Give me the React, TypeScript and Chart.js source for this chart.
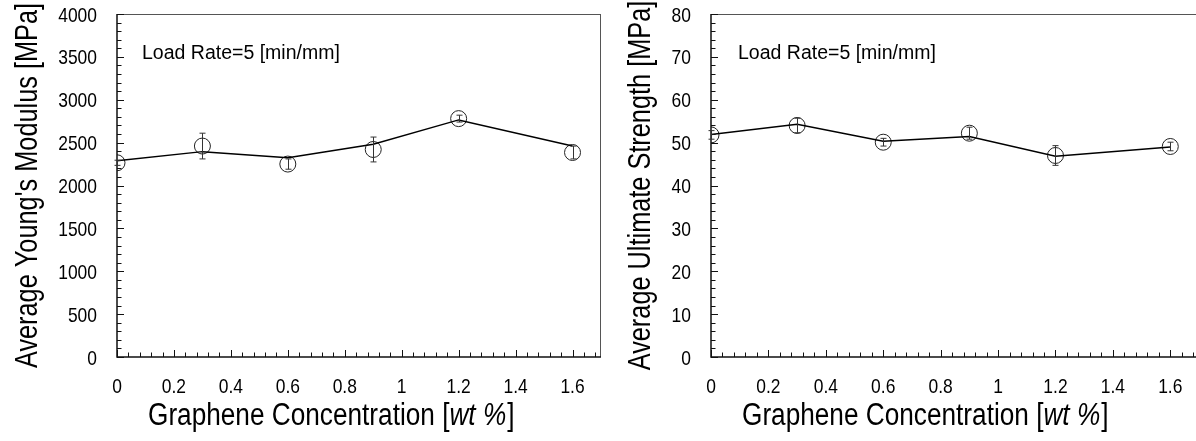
import React, { useEffect, useRef } from "react";
import { Chart, registerables } from "chart.js";

Chart.register(...registerables);

// ---- data ----
const concentrations = [0, 0.3, 0.6, 0.9, 1.2, 1.6];
const xTickValues = [0, 0.2, 0.4, 0.6, 0.8, 1, 1.2, 1.4, 1.6];
const xTickLabels = ["0", "0.2", "0.4", "0.6", "0.8", "1", "1.2", "1.4", "1.6"];

const modulusLine = [2290, 2395, 2325, 2480, 2765, 2460];
const modulusMean = [2265, 2460, 2250, 2420, 2780, 2385];
const modulusErr = [30, 150, 60, 145, 40, 75];
const modulusTicks = [0, 500, 1000, 1500, 2000, 2500, 3000, 3500, 4000];

const strengthLine = [51.9, 54.3, 50.3, 51.4, 46.8, 49.0];
const strengthMean = [51.8, 54.0, 50.1, 52.2, 47.0, 49.1];
const strengthErr = [1.0, 1.7, 0.9, 1.4, 2.3, 1.0];
const strengthTicks = [0, 10, 20, 30, 40, 50, 60, 70, 80];

const X_MAX = 1.7;
const X_MAJOR = 0.2;
const X_MINOR = 0.04;

const X_TITLE_MAIN = "Graphene Concentration [";
const X_TITLE_ITALIC = "wt %";
const X_TITLE_END = "]";
const NOTE = "Load Rate=5 [min/mm]";

const FONT = '"Liberation Sans", Arial, sans-serif';
const NARROW_SX = 0.83;
const TITLE_SX = 0.845;

type PanelProps = {
  left: number;
  width: number;
  yAxisWidth: number;
  rightPad: number;
  lineVals: number[];
  meanVals: number[];
  errVals: number[];
  yTicks: number[];
  yMinor: number;
  yTitle: string;
  yTitleOffset: number;
  noteOffset: number;
};

function drawNarrow(
  ctx: CanvasRenderingContext2D,
  text: string,
  x: number,
  y: number,
  font: string,
  align: "left" | "center" | "right",
  sx: number = NARROW_SX
) {
  ctx.save();
  ctx.font = font;
  ctx.textAlign = "left";
  ctx.textBaseline = "alphabetic";
  const w = ctx.measureText(text).width;
  ctx.translate(x, y);
  ctx.scale(sx, 1);
  const ox = align === "center" ? -w / 2 : align === "right" ? -w : 0;
  ctx.fillText(text, ox, 0);
  ctx.restore();
  return w * sx;
}

function Panel(p: PanelProps) {
  const ref = useRef<HTMLCanvasElement | null>(null);

  useEffect(() => {
    if (!ref.current) return;
    const yMax = p.yTicks[p.yTicks.length - 1];
    const yMajor = p.yTicks[1] - p.yTicks[0];

    const decor = {
      id: "decor",
      afterDraw(chart: any) {
        const ctx = chart.ctx as CanvasRenderingContext2D;
        const a = chart.chartArea;
        const xs = chart.scales.x;
        const ys = chart.scales.y;
        ctx.save();

        // frame: top & right thin
        ctx.strokeStyle = "#555";
        ctx.lineWidth = 1;
        ctx.beginPath();
        ctx.moveTo(a.left, a.top + 0.5);
        ctx.lineTo(a.right, a.top + 0.5);
        ctx.moveTo(a.right - 0.5, a.top);
        ctx.lineTo(a.right - 0.5, a.bottom);
        ctx.stroke();

        // axes
        ctx.strokeStyle = "#111";
        ctx.lineWidth = 1.5;
        ctx.beginPath();
        ctx.moveTo(a.left, a.top);
        ctx.lineTo(a.left, a.bottom);
        ctx.lineTo(a.right, a.bottom);
        ctx.stroke();

        // inside ticks x
        ctx.lineWidth = 1;
        ctx.beginPath();
        const nx = Math.floor(X_MAX / X_MINOR + 1e-6);
        for (let i = 0; i <= nx; i++) {
          const v = i * X_MINOR;
          const r = v / X_MAJOR;
          const major = Math.abs(r - Math.round(r)) < 1e-6;
          const px = Math.round(xs.getPixelForValue(v)) + 0.5;
          ctx.moveTo(px, a.bottom);
          ctx.lineTo(px, a.bottom - (major ? 7 : 4.5));
        }
        // inside ticks y
        const ny = Math.floor(yMax / p.yMinor + 1e-6);
        for (let i = 0; i <= ny; i++) {
          const v = i * p.yMinor;
          const r = v / yMajor;
          const major = Math.abs(r - Math.round(r)) < 1e-6;
          const py = Math.round(ys.getPixelForValue(v)) + 0.5;
          ctx.moveTo(a.left, py);
          ctx.lineTo(a.left + (major ? 7 : 4.5), py);
        }
        ctx.stroke();

        // error bars
        ctx.strokeStyle = "#333";
        ctx.lineWidth = 1;
        ctx.beginPath();
        concentrations.forEach((c, i) => {
          const px = Math.round(xs.getPixelForValue(c)) + 0.5;
          const t = ys.getPixelForValue(p.meanVals[i] + p.errVals[i]);
          const b = ys.getPixelForValue(p.meanVals[i] - p.errVals[i]);
          ctx.moveTo(px, t);
          ctx.lineTo(px, b);
          ctx.moveTo(px - 3, t);
          ctx.lineTo(px + 3, t);
          ctx.moveTo(px - 3, b);
          ctx.lineTo(px + 3, b);
        });
        ctx.stroke();

        ctx.fillStyle = "#000";

        // tick labels
        const tickFont = `21px ${FONT}`;
        xTickValues.forEach((v, i) => {
          drawNarrow(ctx, xTickLabels[i], xs.getPixelForValue(v), 393, tickFont, "center");
        });
        p.yTicks.forEach((v) => {
          drawNarrow(ctx, String(v), a.left - 20, ys.getPixelForValue(v) + 7.5, tickFont, "right");
        });

        // y title
        ctx.save();
        ctx.font = `30.5px ${FONT}`;
        ctx.textAlign = "center";
        ctx.textBaseline = "alphabetic";
        ctx.translate(a.left - p.yTitleOffset, (a.top + a.bottom) / 2);
        ctx.rotate(-Math.PI / 2);
        ctx.scale(NARROW_SX, 1);
        ctx.fillText(p.yTitle, 0, 0);
        ctx.restore();

        // x title (mixed italic)
        let x = a.left + 31;
        const yb = 425;
        x += drawNarrow(ctx, X_TITLE_MAIN, x, yb, `31px ${FONT}`, "left", TITLE_SX);
        x += drawNarrow(ctx, X_TITLE_ITALIC, x, yb, `italic 31px ${FONT}`, "left", TITLE_SX) + 1;
        drawNarrow(ctx, X_TITLE_END, x, yb, `31px ${FONT}`, "left", TITLE_SX);

        // note
        ctx.font = `19.5px ${FONT}`;
        ctx.textAlign = "left";
        ctx.textBaseline = "alphabetic";
        ctx.fillText(NOTE, a.left + p.noteOffset, 59);

        ctx.restore();
      },
    };

    const chart = new Chart(ref.current, {
      type: "line",
      data: {
        datasets: [
          {
            data: concentrations.map((x, i) => ({ x, y: p.lineVals[i] })),
            borderColor: "#000",
            borderWidth: 1.5,
            pointRadius: 0,
            showLine: true,
            tension: 0,
          },
          {
            data: concentrations.map((x, i) => ({ x, y: p.meanVals[i] })),
            showLine: false,
            pointRadius: 8,
            pointBorderColor: "#222",
            pointBackgroundColor: "rgba(0,0,0,0)",
            pointBorderWidth: 1,
            borderColor: "#222",
          },
        ],
      },
      options: {
        animation: false,
        responsive: false,
        maintainAspectRatio: false,
        layout: { padding: { top: 14, right: p.rightPad, left: 0, bottom: 0 } },
        plugins: { legend: { display: false }, tooltip: { enabled: false } },
        scales: {
          x: {
            type: "linear",
            min: 0,
            max: X_MAX,
            afterBuildTicks: (s: any) => {
              s.ticks = xTickValues.map((v) => ({ value: v }));
            },
            afterFit: (s: any) => {
              s.height = 84;
              s.paddingLeft = 0;
              s.paddingRight = 0;
            },
            grid: { display: false, drawTicks: false },
            border: { display: false },
            ticks: { display: false },
          },
          y: {
            type: "linear",
            min: 0,
            max: yMax,
            afterBuildTicks: (s: any) => {
              s.ticks = p.yTicks.map((v) => ({ value: v }));
            },
            afterFit: (s: any) => {
              s.width = p.yAxisWidth;
              s.paddingTop = 0;
              s.paddingBottom = 0;
            },
            grid: { display: false, drawTicks: false },
            border: { display: false },
            ticks: { display: false },
          },
        },
      },
      plugins: [decor],
    } as any);

    return () => chart.destroy();
  }, []);

  return (
    <canvas
      ref={ref}
      width={p.width}
      height={441}
      style={{ position: "absolute", left: p.left, top: 0, width: p.width, height: 441 }}
    />
  );
}

export default function App() {
  return (
    <div
      style={{
        position: "fixed",
        left: 0,
        top: 0,
        width: 1196,
        height: 441,
        overflow: "hidden",
        background: "#fff",
      }}
    >
      <Panel
        left={0}
        width={610}
        yAxisWidth={117}
        rightPad={3}
        lineVals={modulusLine}
        meanVals={modulusMean}
        errVals={modulusErr}
        yTicks={modulusTicks}
        yMinor={100}
        yTitle="Average Young's Modulus [MPa]"
        yTitleOffset={80}
        noteOffset={25}
      />
      <Panel
        left={610}
        width={600}
        yAxisWidth={101}
        rightPad={11}
        lineVals={strengthLine}
        meanVals={strengthMean}
        errVals={strengthErr}
        yTicks={strengthTicks}
        yMinor={2}
        yTitle="Average Ultimate Strength [MPa]"
        yTitleOffset={61}
        noteOffset={27}
      />
    </div>
  );
}
